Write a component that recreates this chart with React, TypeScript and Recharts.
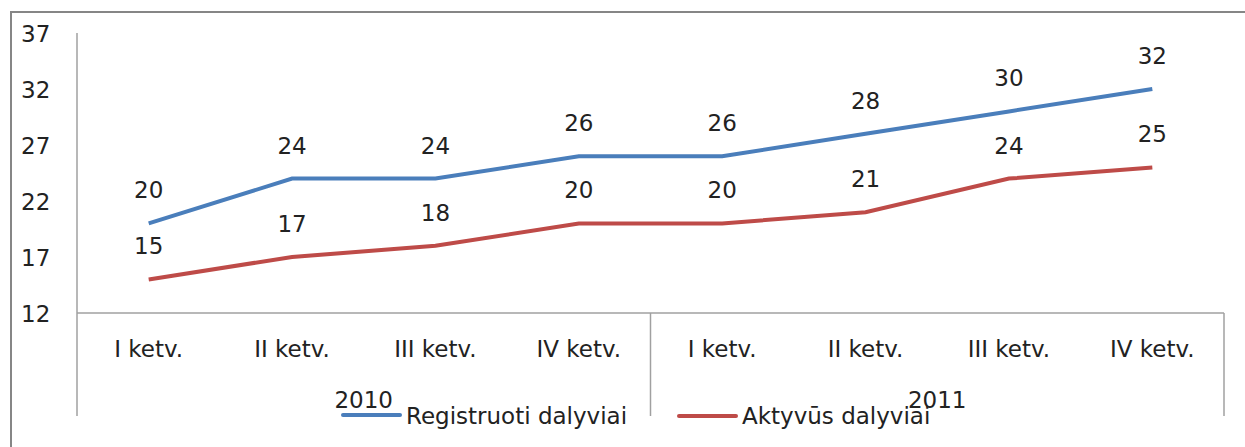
import React from 'react';
import { LineChart, Line, XAxis, YAxis, LabelList } from 'recharts';

const quarters = ['I ketv.', 'II ketv.', 'III ketv.', 'IV ketv.', 'I ketv.', 'II ketv.', 'III ketv.', 'IV ketv.'];
const years = ['2010', '2010', '2010', '2010', '2011', '2011', '2011', '2011'];
const registruoti = [20, 24, 24, 26, 26, 28, 30, 32];
const aktyvus = [15, 17, 18, 20, 20, 21, 24, 25];
const yTicks = [12, 17, 22, 27, 32, 37];
const seriesNames = ['Registruoti dalyviai', 'Aktyvūs dalyviai'];

const data = quarters.map((q, i) => ({
  key: i,
  quarter: q,
  year: years[i],
  reg: registruoti[i],
  akt: aktyvus[i],
}));

const FONT = '"DejaVu Sans", sans-serif';
const TEXT = '#222';
const AXIS = '#a0a0a0';
const BLUE = '#4A7EBB';
const RED = '#BE4B48';
const W = 1245;
const H = 447;
const M = { top: 33, right: 21, left: 0, bottom: 0 };
const YW = 77;
const XH = 134;
const HALF_BAND = (W - YW - M.right) / quarters.length / 2;

const YTick = (props: any) => {
  const { y, payload } = props;
  return (
    <text x={21} y={y + 8.5} textAnchor="start" fontFamily={FONT} fontSize={23} fill={TEXT}>
      {payload.value}
    </text>
  );
};

const XTick = (props: any) => {
  const { x, y, payload, index } = props;
  const off = payload && typeof payload.offset === 'number' && payload.offset > 0 ? payload.offset : HALF_BAND;
  const i = typeof index === 'number' ? index : payload.index;
  const els: any[] = [];
  els.push(
    <text key="q" x={x} y={y + 44} textAnchor="middle" fontFamily={FONT} fontSize={23} fill={TEXT}>
      {quarters[i]}
    </text>
  );
  if (i === 0 || years[i] !== years[i - 1]) {
    els.push(<line key="l" x1={x - off} x2={x - off} y1={y} y2={y + 103} stroke={AXIS} strokeWidth={1.5} />);
  }
  if (i === quarters.length - 1) {
    els.push(<line key="r" x1={x + off} x2={x + off} y1={y} y2={y + 103} stroke={AXIS} strokeWidth={1.5} />);
  }
  const groupStart = years.indexOf(years[i]);
  const groupEnd = years.lastIndexOf(years[i]);
  const count = groupEnd - groupStart + 1;
  if (i === groupStart) {
    const cx = x - off + count * off;
    els.push(
      <text key="y" x={cx} y={y + 95} textAnchor="middle" fontFamily={FONT} fontSize={23} fill={TEXT}>
        {years[i]}
      </text>
    );
  }
  return <g>{els}</g>;
};

const LegendItem = ({ color, label, left, lineY }: any) => (
  <div style={{ position: 'absolute', left, top: 401, height: 30, display: 'flex', alignItems: 'center' }}>
    <div style={{ width: 61, height: 4, borderRadius: 2, background: color, marginRight: 4, marginTop: lineY }} />
    <span style={{ fontFamily: FONT, fontSize: 23, color: TEXT, lineHeight: '30px', whiteSpace: 'nowrap' }}>{label}</span>
  </div>
);

export default function App() {
  return (
    <div style={{ position: 'absolute', left: 0, top: 0, width: W, height: H, background: '#fff', overflow: 'hidden' }}>
      <div style={{ position: 'absolute', left: 10, top: 11, width: W, height: H, borderTop: '2px solid #868686', borderLeft: '2px solid #868686' }} />
      <LineChart width={W} height={H} data={data} margin={M} style={{ position: 'absolute', left: 0, top: 0 }}>
        <XAxis
          dataKey="key"
          type="category"
          scale="band"
          height={XH}
          tickSize={0}
          tickMargin={0}
          axisLine={{ stroke: AXIS, strokeWidth: 1.5 }}
          tickLine={false}
          tick={<XTick />}
          interval={0}
        />
        <YAxis
          domain={[12, 37]}
          ticks={yTicks}
          width={YW}
          axisLine={{ stroke: AXIS, strokeWidth: 1.5 }}
          tickLine={false}
          tick={<YTick />}
          interval={0}
        />
        <Line dataKey="reg" name={seriesNames[0]} stroke={BLUE} strokeWidth={4} dot={false} isAnimationActive={false} type="linear">
          <LabelList dataKey="reg" position="top" offset={25} fontFamily={FONT} fontSize={23} fill={TEXT} />
        </Line>
        <Line dataKey="akt" name={seriesNames[1]} stroke={RED} strokeWidth={4} dot={false} isAnimationActive={false} type="linear">
          <LabelList dataKey="akt" position="top" offset={25} fontFamily={FONT} fontSize={23} fill={TEXT} />
        </Line>
      </LineChart>
      <LegendItem color={BLUE} label={seriesNames[0]} left={341} lineY={-3} />
      <LegendItem color={RED} label={seriesNames[1]} left={677} lineY={-1} />
    </div>
  );
}
